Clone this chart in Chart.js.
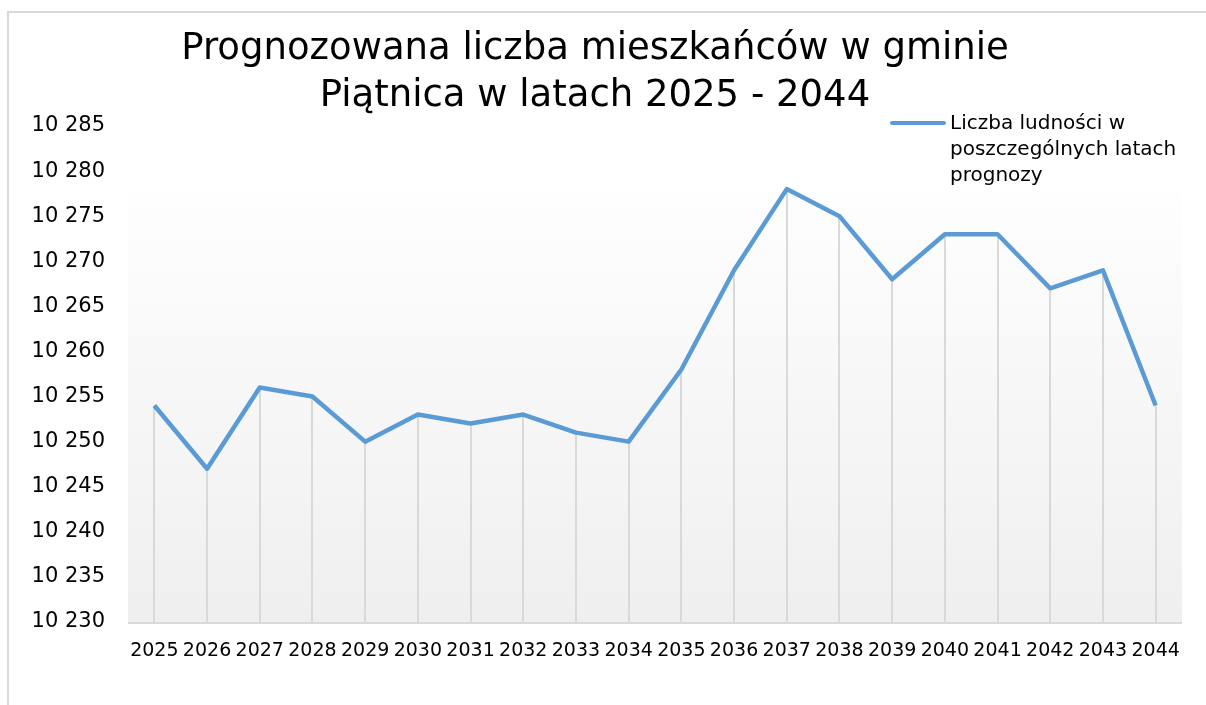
<!DOCTYPE html>
<html>
<head>
<meta charset="utf-8">
<script src="https://cdn.jsdelivr.net/npm/chart.js@4"></script>
<style>
  html, body { margin: 0; padding: 0; background: #fff; }
  #frame {
    position: absolute; left: 7px; top: 11px; width: 1220px; height: 720px;
    border: 1px solid #d9d9d9; border-width: 2px 0 0 2px;
  }
  #wrap { position: absolute; left: 0; top: 0; width: 1206px; height: 705px; }
</style>
</head>
<body>
<div id="frame"></div>
<div id="wrap"><canvas id="chart"></canvas></div>
<script>
const years = ["2025", "2026", "2027", "2028", "2029", "2030", "2031", "2032", "2033", "2034",
               "2035", "2036", "2037", "2038", "2039", "2040", "2041", "2042", "2043", "2044"];
const population = [10254, 10247, 10256, 10255, 10250, 10253, 10252, 10253, 10251, 10250,
                    10258, 10269, 10278, 10275, 10268, 10273, 10273, 10267, 10269, 10254];
const titleLines = ["Prognozowana liczba mieszkańców w gminie", "Piątnica w latach 2025 - 2044"];
const legendLines = ["Liczba ludności w", "poszczególnych latach", "prognozy"];
const yMin = 10230, yMax = 10285, yStep = 5;

const FONT = "'DejaVu Sans', sans-serif";
const lineColor = "#5b9bd5";

// plot-area gradient + drop lines from each point to the axis
const plotDecor = {
  id: "plotDecor",
  beforeDatasetsDraw(chart) {
    const { ctx, chartArea: a } = chart;
    const top = a.top + a.height * 0.13;
    const g = ctx.createLinearGradient(0, top, 0, a.bottom);
    g.addColorStop(0, "#fefefe");
    g.addColorStop(1, "#efefef");
    ctx.save();
    ctx.fillStyle = g;
    ctx.fillRect(a.left, top, a.right - a.left, a.bottom - top);
    ctx.strokeStyle = "#d9d9d9";
    ctx.lineWidth = 2;
    const meta = chart.getDatasetMeta(0);
    meta.data.forEach(p => {
      ctx.beginPath();
      ctx.moveTo(Math.round(p.x), p.y);
      ctx.lineTo(Math.round(p.x), a.bottom);
      ctx.stroke();
    });
    ctx.beginPath();
    ctx.moveTo(a.left, a.bottom + 1);
    ctx.lineTo(a.right, a.bottom + 1);
    ctx.stroke();
    ctx.restore();
  }
};

// legend with wrapped label text
const wrapLegend = {
  id: "wrapLegend",
  afterDraw(chart) {
    const { ctx, chartArea: a } = chart;
    const x0 = a.right - 290, y0 = a.top - 3;
    ctx.save();
    ctx.strokeStyle = lineColor;
    ctx.lineWidth = 4;
    ctx.lineCap = "round";
    ctx.beginPath();
    ctx.moveTo(x0, y0);
    ctx.lineTo(x0 + 52, y0);
    ctx.stroke();
    ctx.fillStyle = "#000";
    ctx.font = "20px " + FONT;
    ctx.textBaseline = "middle";
    legendLines.forEach((t, i) => ctx.fillText(t, x0 + 58, y0 + 1 + i * 26));
    ctx.restore();
  }
};

const ctx = document.getElementById("chart").getContext("2d");
const chart = new Chart(ctx, {
  type: "line",
  data: {
    labels: years,
    datasets: [{
      label: legendLines.join(" "),
      data: population,
      borderColor: lineColor,
      borderWidth: 4.5,
      pointRadius: 0,
      tension: 0,
      borderJoinStyle: "round"
    }]
  },
  options: {
    responsive: true,
    maintainAspectRatio: false,
    animation: false,
    layout: { padding: { left: 8, right: 24, top: 0, bottom: 0 } },
    plugins: {
      legend: { display: false },
      tooltip: { enabled: false },
      title: {
        display: true,
        text: titleLines,
        color: "#000",
        font: { family: FONT, size: 37, weight: "normal", lineHeight: 1.27 },
        padding: { top: 26, bottom: 6 }
      }
    },
    scales: {
      x: {
        offset: true,
        grid: { display: false, drawTicks: false },
        border: { display: false },
        ticks: { color: "#000", font: { family: FONT, size: 19 }, padding: 18, maxRotation: 0, autoSkip: false },
        afterFit(s) { s.height = 83; }
      },
      y: {
        min: yMin,
        max: yMax,
        grid: { display: false, drawTicks: false },
        border: { display: false },
        ticks: {
          stepSize: yStep,
          color: "#000",
          font: { family: FONT, size: 21 },
          padding: 23,
          callback: v => String(v).replace(/\B(?=(\d{3})+(?!\d))/g, " ")
        },
        afterFit(s) { s.width = 120; }
      }
    }
  },
  plugins: [plotDecor, wrapLegend]
});
</script>
</body>
</html>
